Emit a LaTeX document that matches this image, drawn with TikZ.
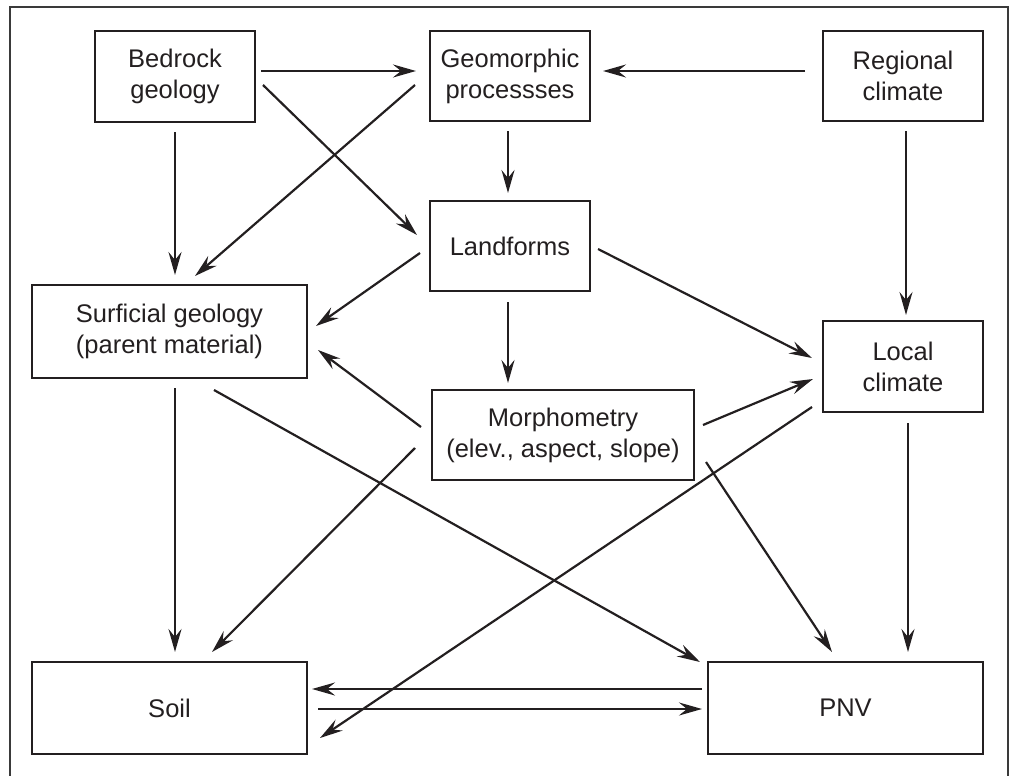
\documentclass[tikz,border=0pt]{standalone}
\usepackage{fontspec}
\setmainfont{Liberation Sans}
\usetikzlibrary{calc,arrows.meta}
\definecolor{ink}{HTML}{231F20}
\definecolor{frame}{HTML}{3A3A3A}
\begin{document}
\begin{tikzpicture}[x=1pt,y=-1pt,
  box/.style={draw=ink, line width=1.2pt, inner sep=0pt, align=center, text=ink,
    font=\fontsize{25.5}{31}\selectfont},
  arr/.style={draw=ink, line width=2.2pt, -{Stealth[length=23pt,width=13pt,inset=8pt]}}]
\useasboundingbox (0,0) rectangle (1012,776);
\draw[frame, line width=1.3pt] (10,780) -- (10,7) -- (1008,7) -- (1008,780);
\node[box, minimum width=160pt, minimum height=91pt] (bed) at (175,76.5) {Bedrock\\geology};
\node[box, minimum width=160pt, minimum height=90pt] (geo) at (510,76) {Geomorphic\\processses};
\node[box, minimum width=160pt, minimum height=90pt] (reg) at (903,76) {Regional\\climate};
\node[box, minimum width=160pt, minimum height=90pt] (land) at (510,246) {Landforms};
\node[box, minimum width=275pt, minimum height=93pt] (surf) at (169.5,331.5) {Surficial geology\\(parent material)};
\node[box, minimum width=160pt, minimum height=91pt] (loc) at (903,366.5) {Local\\climate};
\node[box, minimum width=262pt, minimum height=90pt] (morph) at (563,435) {Morphometry\\(elev., aspect, slope)};
\node[box, minimum width=275pt, minimum height=92pt] (soil) at (169.5,708) {Soil};
\node[box, minimum width=275pt, minimum height=92pt] (pnv) at (845.5,708) {PNV};
% arrows
\draw[arr] ($(bed)+(86,-5.5)$) -- ($(geo)+(-94,-5)$);
\draw[arr] ($(reg)+(-98,-5)$) -- ($(geo)+(93,-5)$);
\draw[arr] ($(bed)+(88,8.5)$) -- ($(land)+(-93,-11)$);
\draw[arr] ($(geo)+(-95,9)$) -- ($(surf)+(25.5,-55.5)$);
\draw[arr] ($(bed)+(0,55.5)$) -- ($(surf)+(5.5,-56.5)$);
\draw[arr] ($(geo)+(-2,55)$) -- ($(land)+(-2,-53)$);
\draw[arr] ($(reg)+(3,55)$) -- ($(loc)+(3,-51.5)$);
\draw[arr] ($(land)+(-90,7)$) -- ($(surf)+(146.5,-5.5)$);
\draw[arr] ($(land)+(88,3)$) -- ($(loc)+(-91,-8.5)$);
\draw[arr] ($(land)+(-2,56)$) -- ($(morph)+(-55,-52)$);
\draw[arr] ($(morph)+(-142,-8)$) -- ($(surf)+(148.5,18.5)$);
\draw[arr] ($(morph)+(140,-10)$) -- ($(loc)+(-90,12.5)$);
\draw[arr] ($(morph)+(-148,13)$) -- ($(soil)+(42.5,-56)$);
\draw[arr] ($(morph)+(143,27)$) -- ($(pnv)+(-13.5,-56)$);
\draw[arr] ($(surf)+(5.5,56.5)$) -- ($(soil)+(5.5,-56)$);
\draw[arr] ($(surf)+(44.5,58.5)$) -- ($(pnv)+(-145.5,-46)$);
\draw[arr] ($(loc)+(-91,40.5)$) -- ($(soil)+(150.5,30)$);
\draw[arr] ($(loc)+(5,56.5)$) -- ($(pnv)+(62.5,-56)$);
\draw[arr] ($(pnv)+(-143.5,-19)$) -- ($(soil)+(142.5,-19)$);
\draw[arr] ($(soil)+(148.5,1)$) -- ($(pnv)+(-143.5,1)$);
\end{tikzpicture}
\end{document}
